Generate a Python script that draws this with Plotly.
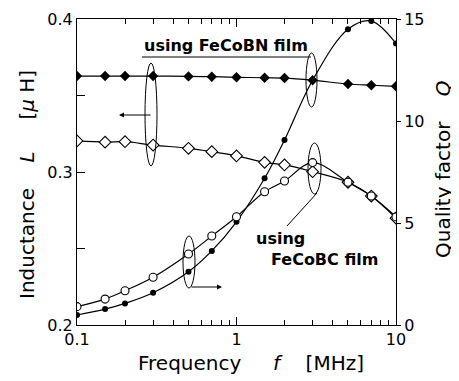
import plotly.graph_objects as go

# ---- data ----
freq = [0.1, 0.15, 0.2, 0.3, 0.5, 0.7, 1, 1.5, 2, 3, 5, 7, 10]          # MHz
L_FeCoBN = [0.3627, 0.3627, 0.3627, 0.3627, 0.3625, 0.3623, 0.3619,
            0.3616, 0.3614, 0.3600, 0.3575, 0.3567, 0.3560]             # uH
L_FeCoBC = [0.3203, 0.3195, 0.3198, 0.3176, 0.3155, 0.3133, 0.3105,
            0.3063, 0.3046, 0.3002, 0.2933, 0.2843, 0.2698]             # uH
Q_FeCoBN = [0.49, 0.78, 1.06, 1.58, 2.61, 3.63, 5.06, 7.19, 9.07,
            12.0, 14.5, 14.9, 13.8]
Q_FeCoBC = [0.90, 1.27, 1.68, 2.34, 3.48, 4.36, 5.31, 6.53, 7.06,
            7.96, 7.00, 6.32, 5.30]

x_tickvals = [0.1, 1, 10]
x_ticktext = ["0.1", "1", "10"]
x_minor = [0.2, 0.3, 0.4, 0.5, 0.6, 0.7, 0.8, 0.9, 2, 3, 4, 5, 6, 7, 8, 9]
L_tickvals = [0.2, 0.3, 0.4]
L_minor = [0.25, 0.35]
Q_tickvals = [0, 5, 10, 15]

# ---- layout geometry (page body has an 8 px margin) ----
BODY = 8
W, H = 459 - BODY, 381 - BODY
ML, MT = 77 - BODY, 19 - BODY
PW, PH = 319, 306
MR, MB = W - ML - PW, H - MT - PH
X0, YB = 77, 325   # plot-area left / bottom in window pixels


def px(x):
    return (x - X0) / PW


def py(y):
    return (YB - y) / PH


FONT = "DejaVu Sans"
line_style = dict(color="black", width=1.2, shape="spline", smoothing=1.0)

fig = go.Figure()
fig.add_trace(go.Scatter(
    x=freq, y=L_FeCoBN, mode="lines+markers", name="L, FeCoBN",
    line=line_style,
    marker=dict(symbol="diamond", size=8, color="black"),
))
fig.add_trace(go.Scatter(
    x=freq, y=L_FeCoBC, mode="lines+markers", name="L, FeCoBC",
    line=line_style,
    marker=dict(symbol="diamond", size=9, color="white",
                line=dict(color="black", width=1.1)),
))
fig.add_trace(go.Scatter(
    x=freq, y=Q_FeCoBN, mode="lines+markers", name="Q, FeCoBN",
    yaxis="y2", line=line_style,
    marker=dict(symbol="circle", size=6, color="black"),
))
fig.add_trace(go.Scatter(
    x=freq, y=Q_FeCoBC, mode="lines+markers", name="Q, FeCoBC",
    yaxis="y2", line=line_style,
    marker=dict(symbol="circle", size=8, color="white",
                line=dict(color="black", width=1.1)),
))

axis_common = dict(showgrid=False, zeroline=False, showline=True,
                   automargin=False,
                   linecolor="black", linewidth=1,
                   tickfont=dict(family=FONT, size=16, color="black"),
                   tickcolor="black")

fig.update_layout(
    width=W, height=H, autosize=False,
    margin=dict(l=ML, r=MR, t=MT, b=MB, pad=0, autoexpand=False),
    paper_bgcolor="white", plot_bgcolor="white",
    showlegend=False,
    font=dict(family=FONT, color="black"),
    xaxis=dict(type="log", range=[-1, 1], mirror="ticks",
               ticks="inside", ticklen=8, tickwidth=1,
               tickmode="array", tickvals=x_tickvals, ticktext=x_ticktext,
               ticklabelstandoff=0,
               minor=dict(ticks="inside", ticklen=5, tickwidth=1,
                          tickcolor="black", tickmode="array",
                          tickvals=x_minor),
               **axis_common),
    yaxis=dict(range=[0.2, 0.4], ticks="inside", ticklen=8, tickwidth=1,
               tickmode="array", tickvals=L_tickvals,
               ticktext=["0.2", "0.3", "0.4"],
               minor=dict(ticks="inside", ticklen=8, tickwidth=1,
                          tickcolor="black", tickmode="array",
                          tickvals=L_minor),
               **axis_common),
    yaxis2=dict(range=[0, 15], overlaying="y", side="right",
                ticks="outside", ticklen=4, tickwidth=1,
                tickmode="array", tickvals=Q_tickvals,
                ticklabelstandoff=0,
                **axis_common),
)

nb = "\u00a0"
ann = []
# axis titles
ann.append(dict(text=f"Frequency{nb*5}<i>f</i>{nb*4}[MHz]",
                x=px(251), y=py(363), xref="paper", yref="paper",
                xanchor="center", yanchor="middle", showarrow=False,
                font=dict(family=FONT, size=20, color="black")))
ann.append(dict(text=f"Inductance{nb*4}<i>L</i>{nb*5}[<i>μ</i> H]",
                x=px(27), y=py(185), xref="paper", yref="paper",
                xanchor="center", yanchor="middle", showarrow=False,
                textangle=-90,
                font=dict(family=FONT, size=20, color="black")))
ann.append(dict(text=f"Quality factor{nb*4}<i>Q</i>",
                x=px(443), y=py(169), xref="paper", yref="paper",
                xanchor="center", yanchor="middle", showarrow=False,
                textangle=-90,
                font=dict(family=FONT, size=20, color="black")))
# labels
ann.append(dict(text="<b>using FeCoBN film</b>",
                x=px(142), y=py(45), xref="paper", yref="paper",
                xanchor="left", yanchor="middle", showarrow=False,
                font=dict(family=FONT, size=16, color="black")))
ann.append(dict(text="<b>using</b>",
                x=px(254), y=py(238), xref="paper", yref="paper",
                xanchor="left", yanchor="middle", showarrow=False,
                font=dict(family=FONT, size=16, color="black")))
ann.append(dict(text="<b>FeCoBC film</b>",
                x=px(269), y=py(259), xref="paper", yref="paper",
                xanchor="left", yanchor="middle", showarrow=False,
                font=dict(family=FONT, size=16, color="black")))
# arrows pointing to the relevant axis
ann.append(dict(text="", x=px(119), y=py(115), xref="paper", yref="paper",
                ax=33, ay=0, showarrow=True, arrowhead=2, arrowsize=1,
                arrowwidth=1, arrowcolor="black"))
ann.append(dict(text="", x=px(222), y=py(287), xref="paper", yref="paper",
                ax=-32, ay=0, showarrow=True, arrowhead=2, arrowsize=1,
                arrowwidth=1, arrowcolor="black"))
fig.update_layout(annotations=ann)

shp = []
for (x0, x1, y0, y1) in [(145, 157, 63, 166), (183, 195, 236, 288),
                         (306, 317, 53, 107), (308, 321, 143, 194)]:
    shp.append(dict(type="circle", xref="paper", yref="paper",
                    x0=px(x0), x1=px(x1), y0=py(y1), y1=py(y0),
                    line=dict(color="black", width=1)))
for (x0, y0, x1, y1) in [(142, 57, 311, 57), (317, 193, 287, 226)]:
    shp.append(dict(type="line", xref="paper", yref="paper",
                    x0=px(x0), y0=py(y0), x1=px(x1), y1=py(y1),
                    line=dict(color="black", width=1)))
fig.update_layout(shapes=shp)

fig.write_html("out.html")
